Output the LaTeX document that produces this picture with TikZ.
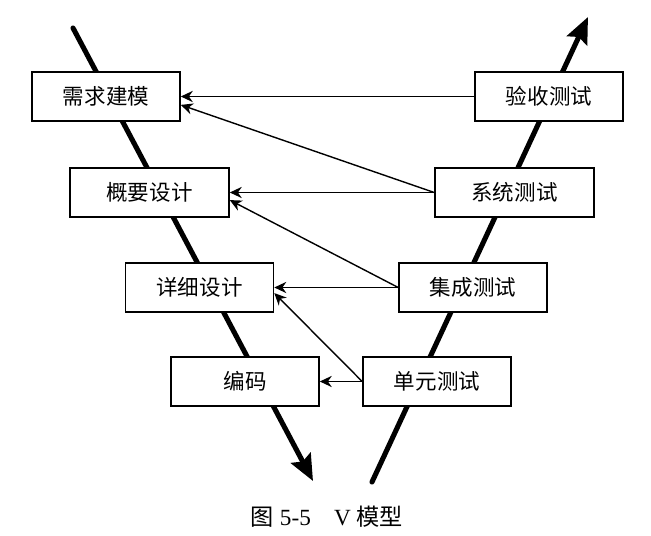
\documentclass[tikz,border=0pt]{standalone}
\usepackage{fontspec}
\setmainfont{Liberation Serif}
\newfontfamily\cjk{Noto Sans CJK SC}
\usetikzlibrary{arrows.meta}

\tikzset{
  box/.style={shape=rectangle,draw=black,fill=white,line width=1.1pt,
    minimum width=3.7cm,minimum height=1.225cm,inner sep=0pt,font=\cjk\fontsize{15.3}{17}\selectfont},
  widebox/.style={box,minimum width=3.975cm},
  vline/.style={line width=3.6pt},
  link/.style={line width=1pt,-{Stealth[length=3mm,width=2.8mm]}}
}

\begin{document}
\begin{tikzpicture}[x=0.025cm,y=-0.025cm]
        \useasboundingbox (0,0) rectangle (651,536);
        % the two legs of the V
        \coordinate (ltop) at (73,28);
        \coordinate (lbot) at (313,481);
        \coordinate (rbot) at (372,482);
        \coordinate (rtop) at (588,17);
        \draw[vline,line cap=round,-{Stealth[length=6.5mm,width=5.5mm,inset=1mm]}] (ltop) -- (lbot);
        \draw[vline,line cap=round,-{Stealth[length=6.5mm,width=5.5mm,inset=1mm]}] (rbot) -- (rtop);
        % design side
        \node[box](req) at (106,96.5) {需求建模};
        \node[widebox](arch) at (149.5,192.5) {概要设计};
        \node[box](det) at (199.5,287.5) {详细设计};
        \node[box](code) at (245,381.5) {编码};
        % test side
        \node[box](acc) at (549,96.5) {验收测试};
        \node[widebox](sys) at (514.5,192.5) {系统测试};
        \node[box](integ) at (473,287.5) {集成测试};
        \node[box](unit) at (437,381.5) {单元测试};
        % links
        \draw[link] (acc.west) -- (req.east);
        \draw[link] (sys.west) -- ([yshift=-0.21cm]req.east);
        \draw[link] (sys.west) -- (arch.east);
        \draw[link] (integ.west) -- ([yshift=-0.19cm]arch.east);
        \draw[link] (integ.west) -- (det.east);
        \draw[link] (unit.west) -- ([yshift=-0.14cm]det.east);
        \draw[link] (unit.west) -- (code.east);
        % caption
        \node[font=\fontsize{16.5}{18}\selectfont](cap) at (327,517) {{\cjk 图} 5-5\quad V {\cjk 模型}};
    \end{tikzpicture}
\end{document}
